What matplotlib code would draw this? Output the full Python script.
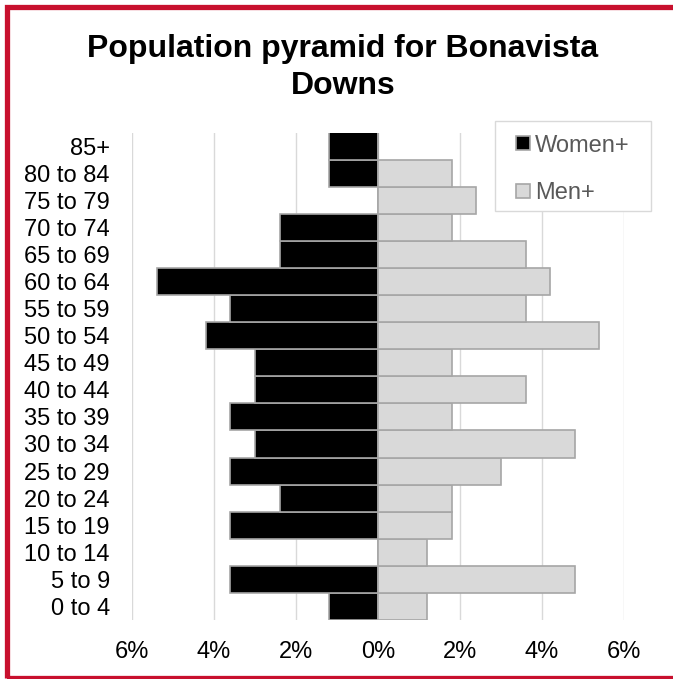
import matplotlib
matplotlib.use("Agg")
import matplotlib.pyplot as plt
from matplotlib.lines import Line2D
from matplotlib.patches import Rectangle
from matplotlib.ticker import FuncFormatter

plt.rcParams['font.family'] = ['Liberation Sans', 'DejaVu Sans']

# age groups, bottom to top
ages = ['0 to 4', '5 to 9', '10 to 14', '15 to 19', '20 to 24', '25 to 29',
        '30 to 34', '35 to 39', '40 to 44', '45 to 49', '50 to 54', '55 to 59',
        '60 to 64', '65 to 69', '70 to 74', '75 to 79', '80 to 84', '85+']
women = [1.2, 3.6, 0.0, 3.6, 2.4, 3.6, 3.0, 3.6, 3.0, 3.0, 4.2, 3.6,
         5.4, 2.4, 2.4, 0.0, 1.2, 1.2]
men = [1.2, 4.8, 1.2, 1.8, 1.8, 3.0, 4.8, 1.8, 3.6, 1.8, 5.4, 3.6,
       4.2, 3.6, 1.8, 2.4, 1.8, 0.0]
xticks = [-6, -4, -2, 0, 2, 4, 6]

fig = plt.figure(figsize=(6.73, 6.79), dpi=100)
ax = fig.add_axes([132 / 673, 1 - 620 / 679, 492 / 673, 487.5 / 679])

y = range(len(ages))
edge = '#a6a6a6'
ax.barh(y, [-w for w in women], height=1.0, color='black', edgecolor=edge,
        linewidth=1.2, zorder=3)
ax.barh(y, men, height=1.0, color='#d9d9d9', edgecolor=edge,
        linewidth=1.2, zorder=3)

ax.set_xlim(-6, 6)
ax.set_ylim(-0.5, len(ages) - 0.5)
ax.set_xticks(xticks)
ax.xaxis.set_major_formatter(FuncFormatter(lambda v, p: '%d%%' % abs(v)))
ax.set_yticks(list(y))
ax.set_yticklabels(ages)
ax.tick_params(axis='both', length=0, labelsize=17, colors='black')
ax.tick_params(axis='x', pad=15)
ax.tick_params(axis='y', pad=16)
ax.grid(axis='x', color='#d9d9d9', linewidth=1.0, zorder=0)
for s in ax.spines.values():
    s.set_visible(False)

# legend: box drawn separately so the padding matches
fig.patches.append(Rectangle((495, 679 - 211), 156, 90, transform=None,
                             facecolor='white', edgecolor='#d9d9d9',
                             linewidth=1.0, zorder=5))
handles = [Line2D([], [], linestyle='none', marker='s', markersize=9.4,
                  markerfacecolor='black', markeredgecolor=edge,
                  markeredgewidth=1.2),
           Line2D([], [], linestyle='none', marker='s', markersize=9.4,
                  markerfacecolor='#d9d9d9', markeredgecolor=edge,
                  markeredgewidth=1.2)]
leg = fig.legend(handles, ['Women+', 'Men+'], loc='upper left',
                 bbox_to_anchor=(495 / 673, 1 - 121 / 679), fontsize=17,
                 handlelength=1.18, handletextpad=-0.06,
                 labelspacing=1.08, borderpad=0.58, borderaxespad=0,
                 frameon=False, labelcolor='#595959')
leg.set_zorder(6)

fig.text(343 / 673, 1 - 67.5 / 679, 'Population pyramid for Bonavista\nDowns',
         ha='center', va='center', fontsize=23, fontweight='bold',
         linespacing=1.32)

# red frame round the chart (cropped on the right)
fig.patches.append(Rectangle((7, 1), 700, 671, transform=None, fill=False,
                             edgecolor='#c8102e', linewidth=3.8))

fig.savefig('out.png', dpi=100)
